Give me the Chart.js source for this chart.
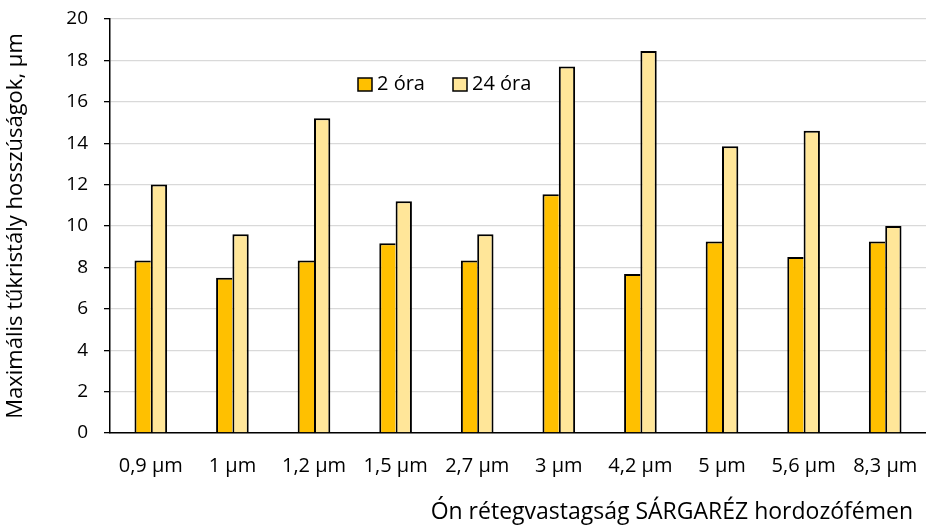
<!DOCTYPE html>
<html>
<head>
<meta charset="utf-8">
<script src="https://cdn.jsdelivr.net/npm/chart.js@4"></script>
<style>
  html, body { margin: 0; padding: 0; background: #fff; }
  #wrap { width: 926px; height: 528px; }
</style>
</head>
<body>
<div id="wrap"><canvas id="c" width="926" height="528"></canvas></div>
<script>
// Tin layer thicknesses on brass substrate
const categories = ['0,9 µm', '1 µm', '1,2 µm', '1,5 µm', '2,7 µm', '3 µm', '4,2 µm', '5 µm', '5,6 µm', '8,3 µm'];
const seriesNames = ['2 óra', '24 óra'];
const values2h  = [8.33, 7.5, 8.33, 9.17, 8.33, 11.53, 7.68, 9.25, 8.5, 9.25];
const values24h = [12.0, 9.6, 15.2, 11.2, 9.6, 17.7, 18.45, 13.85, 14.6, 10.0];
const yTitle = 'Maximális tűkristály hosszúságok, µm';
const xTitle = 'Ón rétegvastagság SÁRGARÉZ hordozófémen';

const FONT = '"Open Sans", Lato, "Liberation Sans", sans-serif';

// Legend drawn inside the plot area
const insideLegend = {
  id: 'insideLegend',
  afterDraw(chart) {
    const ctx = chart.ctx;
    const starts = [358, 453];
    ctx.save();
    ctx.font = '20px ' + FONT;
    ctx.textBaseline = 'middle';
    chart.data.datasets.forEach((ds, i) => {
      const x = starts[i], y = 78;
      ctx.fillStyle = ds.backgroundColor;
      ctx.fillRect(x, y, 14, 13);
      ctx.strokeStyle = '#000';
      ctx.lineWidth = 1.5;
      ctx.strokeRect(x, y, 14, 13);
      ctx.fillStyle = '#000';
      ctx.fillText(ds.label, x + 19, y + 6);
    });
    ctx.restore();
  }
};

// X axis title, right-aligned a little inside the canvas edge
const xAxisTitle = {
  id: 'xAxisTitle',
  afterDraw(chart) {
    const ctx = chart.ctx;
    ctx.save();
    ctx.font = '23px ' + FONT;
    ctx.fillStyle = '#000';
    ctx.textAlign = 'right';
    ctx.textBaseline = 'middle';
    ctx.fillText(xTitle, 913, 512);
    ctx.restore();
  }
};

new Chart(document.getElementById('c'), {
  type: 'bar',
  data: {
    labels: categories,
    datasets: [
      {
        label: seriesNames[0],
        data: values2h,
        backgroundColor: '#FFC000',
        borderColor: '#000',
        borderWidth: { left: 2, top: 2, right: 0, bottom: 0 },
        borderSkipped: false,
        categoryPercentage: 0.4,
        barPercentage: 1.0
      },
      {
        label: seriesNames[1],
        data: values24h,
        backgroundColor: '#FFE699',
        borderColor: '#000',
        borderWidth: { left: 2, top: 2, right: 2, bottom: 0 },
        borderSkipped: false,
        categoryPercentage: 0.4,
        barPercentage: 1.0
      }
    ]
  },
  options: {
    responsive: false,
    animation: false,
    devicePixelRatio: 1,
    layout: { padding: { top: 19, right: -3, bottom: 0, left: 0 } },
    plugins: {
      legend: { display: false },
      tooltip: { enabled: false }
    },
    scales: {
      x: {
        grid: { display: false, drawTicks: false },
        border: { display: true, color: '#000', width: 1.5 },
        ticks: { color: '#000', font: { family: FONT, size: 20 }, padding: 21, maxRotation: 0, autoSkip: false },
        title: { display: false },
        afterFit(scale) {
          scale.height = 95;
          scale.paddingLeft = 0;
          scale.paddingRight = 0;
        }
      },
      y: {
        min: 0, max: 20,
        ticks: { stepSize: 2, color: '#000', font: { family: FONT, size: 19 }, padding: 16 },
        grid: { color: '#d9d9d9', lineWidth: 1.3, tickLength: 6, tickColor: '#000', tickWidth: 1.3 },
        border: { display: true, color: '#000', width: 1.5 },
        title: {
          display: true, text: yTitle, color: '#000',
          font: { family: FONT, size: 22 }, padding: { top: 3, bottom: 4 }
        },
        afterFit(scale) {
          scale.width = 110;
          scale.paddingTop = 0;
          scale.paddingBottom = 0;
        }
      }
    }
  },
  plugins: [insideLegend, xAxisTitle]
});
</script>
</body>
</html>
